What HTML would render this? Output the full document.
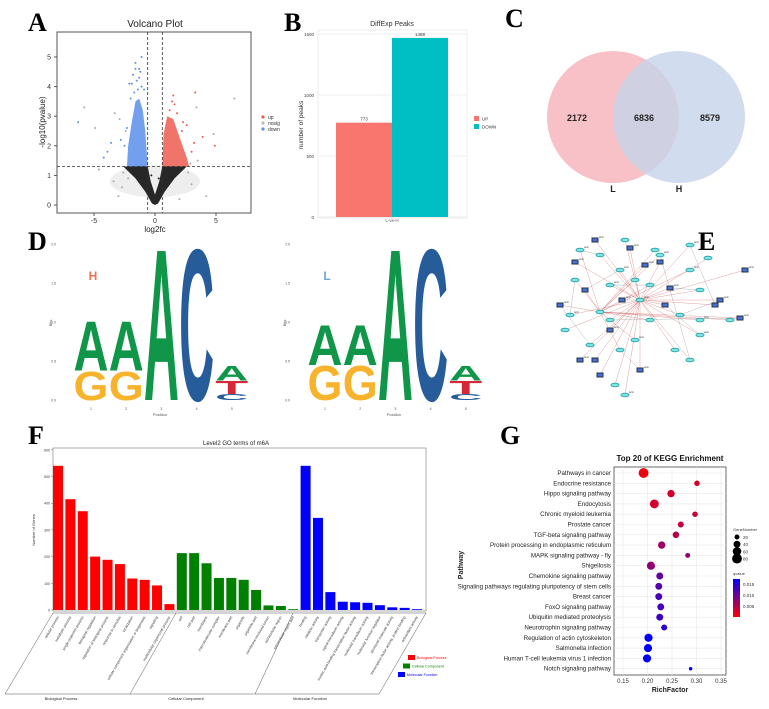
<!DOCTYPE html>
<html><head><meta charset="utf-8">
<style>
html,body{margin:0;padding:0;background:#fff;}
svg{display:block;font-family:"Liberation Sans",sans-serif;}
.pl{font-family:"Liberation Serif",serif;font-weight:bold;font-size:26px;}
</style></head>
<body>
<svg id="fig" width="769" height="709" viewBox="0 0 769 709" xmlns="http://www.w3.org/2000/svg">
<text class="pl" x="28" y="31">A</text>
<text class="pl" x="284" y="31">B</text>
<text class="pl" x="505" y="27">C</text>
<text class="pl" x="28" y="250">D</text>
<text class="pl" x="698" y="250">E</text>
<text class="pl" x="28" y="444">F</text>
<text class="pl" x="500" y="444">G</text>
<g id="gA"></g>
<g id="gB"></g>
<g id="gC"></g>
<g id="gD"></g>
<g id="gE"></g>
<g id="gF"></g>
<g id="gG"></g>
</svg>
<script>
const NS="http://www.w3.org/2000/svg";
function mk(p,tag,a,txt){const e=document.createElementNS(NS,tag);for(const k in a)e.setAttribute(k,a[k]);if(txt!==undefined)e.textContent=txt;p.appendChild(e);return e;}

// ---------- A: volcano ----------
const volcTicksX=[-5,0,5];
const volcTicksY=[0,1,2,3,4,5];
const volcThreshX=0.6, volcThreshY=1.3;
const volcOutX=[-6.3,-5.8,-4.9,-3.6,-3.3,-2.9,-2.8,-2.4,-2.1,-1.9,-1.6,-1.3,-1.2,-1.1,-4.2,-3.9,-2.6,-2.2,3.3,3.4,3.9,4.8,4.9,6.5,1.5,1.6,2.2,2.6,3.0,3.2,3.5,2.9,-0.3,0.3,4.2,-4.6,-3.0,2.0,-1.8,-1.5,-1.4,-1.7,-1.1,-2.0,-1.6,-1.3,-2.5,-2.3,-0.9,1.2,1.4,1.8,2.3,-3.4,-2.7,2.7,3.0];
const volcOutY=[2.8,3.3,2.6,2.1,3.1,2.9,2.2,2.5,4.1,4.1,4.8,4.6,4.5,5.0,1.6,1.8,1.1,0.9,3.8,3.3,2.3,2.4,2.0,3.6,3.7,3.4,2.5,2.7,1.8,2.1,1.5,1.4,1.0,0.9,0.3,1.2,0.3,0.2,4.4,4.2,3.9,3.8,4.0,3.6,4.6,4.3,2.0,2.6,3.9,3.2,3.5,3.1,2.8,0.8,0.6,1.1,0.7];
const volcOutC=["b","g","g","b","g","g","b","g","b","b","b","b","b","b","b","b","g","g","r","g","r","g","r","g","r","r","r","r","r","r","g","g","k","k","g","g","g","g","b","b","b","b","b","b","b","b","b","b","b","r","r","r","r","g","g","g","g"];
(function(){
const g=document.getElementById('gA');
const X=v=>155+v*12.2, Y=v=>205-v*29.6;
mk(g,'text',{x:155,y:27,'text-anchor':'middle','font-size':10,fill:'#222'},'Volcano Plot');
const fr=mk(g,'rect',{x:57,y:32,width:194,height:181,fill:'#fff',stroke:'#555','stroke-width':1});

mk(g,'ellipse',{cx:X(0),cy:Y(0.8),rx:45,ry:16,fill:'#bbb',opacity:0.25});
const blobs=[
 {c:'#111',pts:[[-2.6,1.3],[-1.6,0.9],[-0.8,0.45],[-0.25,0.05],[0,0],[0.25,0.05],[0.8,0.45],[1.6,0.9],[2.6,1.3],[0.6,1.3],[0.35,0.8],[0,0.35],[-0.35,0.8],[-0.6,1.3]]},
 {c:'#6495ed',pts:[[-2.3,1.3],[-2.2,2.0],[-1.9,2.8],[-1.6,3.5],[-1.3,3.6],[-1.0,3.2],[-0.8,2.5],[-0.6,1.3]]},
 {c:'#f0655a',pts:[[0.6,1.3],[0.7,2.4],[1.0,3.0],[1.5,2.9],[2.0,2.3],[2.6,1.6],[2.8,1.3]]}];
blobs.forEach((b,i)=>{const p=mk(g,'polygon',{points:b.pts.map(q=>X(q[0])+','+Y(q[1])).join(' '),fill:b.c,opacity:0.9});
});
const col={b:'#5b8ff0',r:'#ee5a50',g:'#aaa',k:'#222'};
volcOutX.forEach((v,i)=>{const c=mk(g,'circle',{cx:X(v),cy:Y(volcOutY[i]),r:1,fill:col[volcOutC[i]]});
});
[ -volcThreshX, volcThreshX].forEach(v=>mk(g,'line',{x1:X(v),x2:X(v),y1:32,y2:213,stroke:'#333','stroke-dasharray':'3,2','stroke-width':0.8}));
mk(g,'line',{x1:57,x2:251,y1:Y(volcThreshY),y2:Y(volcThreshY),stroke:'#333','stroke-dasharray':'3,2','stroke-width':0.8});
volcTicksX.forEach(v=>{mk(g,'line',{x1:X(v),x2:X(v),y1:213,y2:216,stroke:'#555'});mk(g,'text',{x:X(v),y:223,'text-anchor':'middle','font-size':7,fill:'#333'},v);});
volcTicksY.forEach(v=>{mk(g,'line',{x1:54,x2:57,y1:Y(v),y2:Y(v),stroke:'#555'});mk(g,'text',{x:51,y:Y(v)+2.5,'text-anchor':'end','font-size':7,fill:'#333'},v);});
mk(g,'text',{x:155,y:232,'text-anchor':'middle','font-size':8,fill:'#222'},'log2fc');
mk(g,'text',{x:0,y:0,transform:'translate(45,122) rotate(-90)','text-anchor':'middle','font-size':8,fill:'#222'},'-log10(pvalue)');
[['up','#ee5a50'],['nosig','#bbb'],['down','#5b8ff0']].forEach((l,i)=>{const y=117+i*6;
const e=mk(g,'circle',{cx:263,cy:y,r:1.6,fill:l[1]});
mk(g,'text',{x:268,y:y+2,'font-size':5,fill:'#333'},l[0]);});
})();

// ---------- B: bar ----------
const bCats=['UP','DOWN'];
const bVals=[773,1468];
const bTicks=[0,500,1000,1500];
(function(){
const g=document.getElementById('gB');
const Y=v=>217-v*(183/1500);
mk(g,'rect',{x:318,y:30,width:149,height:188,fill:'#fff',stroke:'#eee'});
bTicks.forEach(v=>{mk(g,'line',{x1:318,x2:467,y1:Y(v),y2:Y(v),stroke:'#eee'});mk(g,'text',{x:314,y:Y(v)+2,'text-anchor':'end','font-size':4.5,fill:'#444'},v);});
const cols=['#f8766d','#00bfc4'];
bVals.forEach((v,i)=>{const x=336+i*56;const r=mk(g,'rect',{x:x,y:Y(v),width:56,height:217-Y(v),fill:cols[i]});

mk(g,'text',{x:x+28,y:Y(v)-2,'text-anchor':'middle','font-size':4.5,fill:'#333'},v);});
mk(g,'text',{x:392,y:26,'text-anchor':'middle','font-size':7,fill:'#333'},'DiffExp Peaks');
mk(g,'text',{x:392,y:222,'text-anchor':'middle','font-size':4.5,fill:'#555'},'L-vs-H');
mk(g,'text',{x:0,y:0,transform:'translate(303,125) rotate(-90)','text-anchor':'middle','font-size':6.5,fill:'#333'},'number of peaks');
bCats.forEach((c,i)=>{const r=mk(g,'rect',{x:474,y:116+i*8,width:5,height:5,fill:cols[i]});

mk(g,'text',{x:482,y:120.5+i*8,'font-size':4.5,fill:'#333'},c);});
})();

// ---------- C: venn ----------
const vennVals=[2172,6836,8579];
const vennSets=['L','H'];
(function(){
const g=document.getElementById('gC');
const a=mk(g,'circle',{cx:613,cy:117,r:66,fill:'#f7b6bd',opacity:0.85});
const b=mk(g,'circle',{cx:679,cy:117,r:66,fill:'#c6d3ea',opacity:0.8});
[577,644,710].forEach((x,i)=>mk(g,'text',{x:x,y:121,'text-anchor':'middle','font-size':9,'font-weight':'bold',fill:'#222'},vennVals[i]));
mk(g,'text',{x:613,y:192,'text-anchor':'middle','font-size':9,'font-weight':'bold',fill:'#222'},vennSets[0]);
mk(g,'text',{x:679,y:192,'text-anchor':'middle','font-size':9,'font-weight':'bold',fill:'#222'},vennSets[1]);
})();

// ---------- D: logos ----------
const logoLetters=[['G','A'],['G','A'],['A'],['C'],['C','T','A']];
const logoH=[[0.38,1.03-0.38],[0.38,1.03-0.38],[2.0],[2.0],[0.08,0.17,0.2]];
const logoHR=[[0.45,0.98-0.45],[0.45,0.98-0.45],[2.0],[2.0],[0.08,0.17,0.2]];
(function(){
const g=document.getElementById('gD');
const lc={A:'#109648',C:'#255c99',G:'#f7b32b',T:'#d62839'};
function logo(ox,heights,lab,labc){
 const Y=v=>400-v*78;
 [0,0.5,1.0,1.5,2.0].forEach(v=>mk(g,'text',{x:ox+56,y:Y(v)+1.5,'text-anchor':'end','font-size':3.5,fill:'#555'},v.toFixed(1)));
 mk(g,'text',{x:0,y:0,transform:`translate(${ox+52},323) rotate(-90)`,'text-anchor':'middle','font-size':4,fill:'#555'},'Bits');
 mk(g,'text',{x:ox+160,y:416,'text-anchor':'middle','font-size':4,fill:'#555'},'Position');
 for(let p=0;p<5;p++){const cx=ox+91+p*35.2;mk(g,'text',{x:cx,y:410,'text-anchor':'middle','font-size':3.5,fill:'#555'},p+1);
  let base=0;logoLetters[p].forEach((L,k)=>{const h=heights[p][k];const w=p==4?33:35;
   const t=mk(g,'text',{x:0,y:0,'font-size':100,'font-weight':'bold',fill:lc[L],textLength:w,lengthAdjust:'spacingAndGlyphs',
    transform:`translate(${cx-w/2},${Y(base)}) scale(1,${(h*78)/72})`},L);
   
   base+=h;});}
 mk(g,'text',{x:ox+93,y:280,'text-anchor':'middle','font-size':12,'font-weight':'bold',fill:labc},lab);
}
logo(0,logoH,'H','#e8735a');logo(234,logoHR,'L','#6fa8d6');
})();

// ---------- E: network ----------
const netNodesX=[640,600,575,585,620,660,690,700,670,650,610,590,560,565,580,620,640,675,700,715,690,655,630,600,580,600,625,650,610,595,635,665,700,730,745,690,660,625,595,575,570,615,645,680,720,635,622,610,740,708];
const netNodesY=[300,312,262,290,270,262,270,290,288,320,330,345,305,330,360,350,370,350,320,305,245,250,248,255,250,375,395,285,285,360,340,305,335,320,270,360,255,240,240,280,315,385,265,315,300,280,300,320,318,258];
const netType=['c','c','r','r','c','r','c','c','r','c','r','c','r','c','r','c','r','c','c','r','c','c','r','c','c','r','c','c','c','r','c','r','c','c','r','c','c','c','r','c','c','c','r','c','r','c','r','c','r','c'];
(function(){
const g=document.getElementById('gE');
netNodesX.forEach((x,i)=>{if(i>1){const h=(i%3==0)?1:0;mk(g,'line',{x1:netNodesX[h],y1:netNodesY[h],x2:x,y2:netNodesY[i],stroke:'#c55','stroke-width':0.4,opacity:0.7});
 if(i%4==0) mk(g,'line',{x1:netNodesX[i-1],y1:netNodesY[i-1],x2:x,y2:netNodesY[i],stroke:'#888','stroke-width':0.3});}});
netNodesX.forEach((x,i)=>{const y=netNodesY[i];let n;
 if(netType[i]=='r') n=mk(g,'rect',{x:x-3,y:y-2,width:6,height:4,fill:'#4a6fd8',stroke:'#234'});
 else n=mk(g,'ellipse',{cx:x,cy:y,rx:4,ry:1.8,fill:'#7fe3e8',stroke:'#3aa'});
 
 if(i%2==0) mk(g,'text',{x:x+4,y:y-2,'font-size':2.5,fill:'#333'},'term');});
})();

// ---------- F: GO bars ----------
const goCats=['cellular process','metabolic process','single-organism process','biological regulation','regulation of biological process','response to stimulus','localization','cellular component organization or biogenesis','signaling','multicellular organismal process',
'cell','cell part','membrane','macromolecular complex','membrane part','organelle','organelle part','membrane-enclosed lumen','extracellular region','extracellular region part',
'binding','catalytic activity','transporter activity','signal transducer activity','nucleic acid binding transcription factor activity','molecular transducer activity','molecular function regulator','structural molecule activity','transcription factor activity, protein binding','antioxidant activity'];
const goVals=[540,415,370,200,188,172,118,113,92,22,213,213,175,120,120,113,75,17,15,3,540,345,67,31,29,27,18,10,8,3];
const goTicks=[0,100,200,300,400,500,600];
(function(){
const g=document.getElementById('gF');
const Y=v=>610-v*0.267, X=i=>58+i*12.38;
mk(g,'rect',{x:53,y:448,width:373,height:163,fill:'#fff',stroke:'#777','stroke-width':0.6});
mk(g,'text',{x:236,y:445,'text-anchor':'middle','font-size':6,fill:'#222'},'Level2 GO terms of m6A');
goTicks.forEach(v=>{mk(g,'text',{x:50,y:Y(v)+1.5,'text-anchor':'end','font-size':3.5,fill:'#333'},v);mk(g,'line',{x1:51,x2:53,y1:Y(v),y2:Y(v),stroke:'#555','stroke-width':0.4});});
mk(g,'text',{x:0,y:0,transform:'translate(35,530) rotate(-90)','text-anchor':'middle','font-size':4,fill:'#333'},'Number of Genes');
const cols=['#ff0000','#008000','#0000ff'];
goVals.forEach((v,i)=>{const c=cols[Math.floor(i/10)];
 const r=mk(g,'rect',{x:X(i)-5,y:Y(v),width:10,height:610-Y(v),fill:c});
 
 mk(g,'text',{x:0,y:0,transform:`translate(${X(i)+1},617) rotate(-60)`,'text-anchor':'end','font-size':3.6,fill:'#333'},goCats[i]);});
const L={stroke:'#555','stroke-width':0.5};
mk(g,'line',Object.assign({x1:5,y1:694,x2:379,y2:694},L));
[[53,5],[176,130],[293,255],[426,379]].forEach(p=>mk(g,'line',Object.assign({x1:p[0],y1:613,x2:p[1],y2:694},L)));
mk(g,'line',Object.assign({x1:53,y1:613,x2:426,y2:613},L));
[['Biological Process',61],['Cellular Component',186],['Molecular Function',310]].forEach(t=>mk(g,'text',{x:t[1],y:700,'text-anchor':'middle','font-size':4,fill:'#222'},t[0]));
[['Biological Process','#ff0000',408],['Cellular Component','#008000',403],['Molecular Function','#0000ff',398]].forEach((t,i)=>{
 const r=mk(g,'rect',{x:t[2],y:655+i*8.5,width:7,height:5,fill:t[1]});
 mk(g,'text',{x:t[2]+9,y:659+i*8.5,'font-size':3.6,fill:t[1]},t[0]);});
})();

// ---------- G: KEGG ----------
const keggPaths=['Pathways in cancer','Endocrine resistance','Hippo signaling pathway','Endocytosis','Chronic myeloid leukemia','Prostate cancer','TGF-beta signaling pathway','Protein processing in endoplasmic reticulum','MAPK signaling pathway - fly','Shigellosis','Chemokine signaling pathway','Signaling pathways regulating pluripotency of stem cells','Breast cancer','FoxO signaling pathway','Ubiquitin mediated proteolysis','Neurotrophin signaling pathway','Regulation of actin cytoskeleton','Salmonella infection','Human T-cell leukemia virus 1 infection','Notch signaling pathway'];
const keggRich=[0.192,0.301,0.248,0.214,0.297,0.268,0.258,0.229,0.282,0.207,0.225,0.223,0.223,0.227,0.225,0.234,0.202,0.201,0.199,0.288];
const keggGenes=[80,25,45,65,25,30,35,45,20,55,40,40,40,40,40,30,55,55,55,10];
const keggQ=[0.001,0.003,0.003,0.003,0.004,0.004,0.005,0.007,0.008,0.008,0.011,0.012,0.013,0.013,0.014,0.015,0.018,0.018,0.019,0.019];
const keggTicks=[0.15,0.20,0.25,0.30,0.35];
(function(){
const g=document.getElementById('gG');
const X=v=>623+(v-0.15)*490, Y=i=>473+i*10.3;
mk(g,'rect',{x:614,y:467,width:112,height:208,fill:'#fff',stroke:'#444','stroke-width':0.8});
keggTicks.forEach(v=>mk(g,'line',{x1:X(v),x2:X(v),y1:467,y2:675,stroke:'#e8e8e8','stroke-width':0.6}));
keggPaths.forEach((p,i)=>{mk(g,'line',{x1:614,x2:726,y1:Y(i),y2:Y(i),stroke:'#e8e8e8','stroke-width':0.6});
 mk(g,'text',{x:611,y:Y(i)+2,'text-anchor':'end','font-size':6.2,fill:'#222'},p);});
const qcol=q=>{const t=Math.min(1,q/0.018);return `rgb(${Math.round(255*(1-t))},0,${Math.round(255*t)})`;};
const rs=n=>Math.sqrt(n)*0.55;
keggRich.forEach((v,i)=>{const c=mk(g,'circle',{cx:X(v),cy:Y(i),r:rs(keggGenes[i]),fill:qcol(keggQ[i])});
 });
keggTicks.forEach(v=>mk(g,'text',{x:X(v),y:683,'text-anchor':'middle','font-size':6,fill:'#333'},v.toFixed(2)));
mk(g,'text',{x:670,y:461,'text-anchor':'middle','font-size':8,'font-weight':'bold',fill:'#111'},'Top 20 of KEGG Enrichment');
mk(g,'text',{x:670,y:692,'text-anchor':'middle','font-size':7,'font-weight':'bold',fill:'#222'},'RichFactor');
mk(g,'text',{x:0,y:0,transform:'translate(463,565) rotate(-90)','text-anchor':'middle','font-size':7,'font-weight':'bold',fill:'#222'},'Pathway');
mk(g,'text',{x:733,y:531,'font-size':4,fill:'#333'},'GeneNumber');
[20,40,60,80].forEach((n,i)=>{const y=537+i*7.2;mk(g,'circle',{cx:737,cy:y,r:rs(n),fill:'#000'});mk(g,'text',{x:743,y:y+2,'font-size':4.5,fill:'#333'},n);});
mk(g,'text',{x:733,y:575,'font-size':4,fill:'#333'},'qvalue');
const d=mk(g,'defs',{});const lg=mk(d,'linearGradient',{id:'qg',x1:0,y1:0,x2:0,y2:1});
mk(lg,'stop',{offset:0,'stop-color':'#0000ff'});mk(lg,'stop',{offset:1,'stop-color':'#ff0000'});
const cb=mk(g,'rect',{x:733,y:579,width:7,height:38,fill:'url(#qg)'});
[['0.015',586],['0.010',597],['0.005',608]].forEach(t=>mk(g,'text',{x:743,y:t[1],'font-size':4.5,fill:'#333'},t[0]));
})();
</script>
</body></html>
